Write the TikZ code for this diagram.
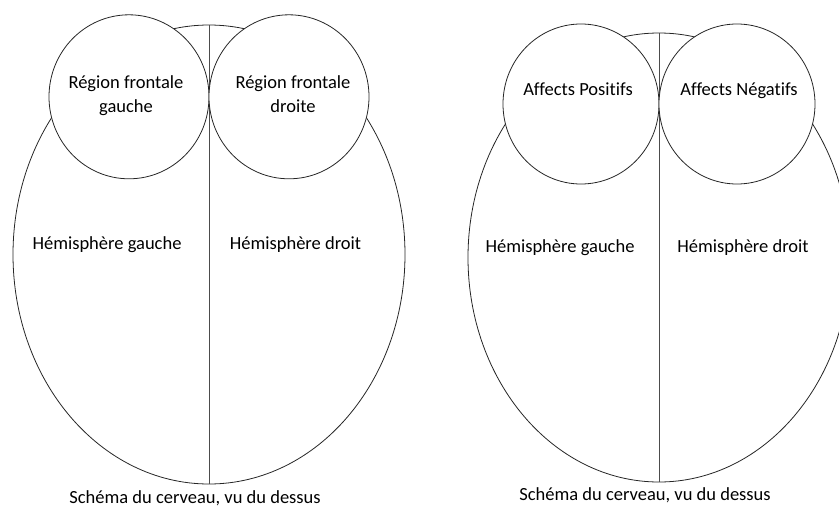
\documentclass[tikz,border=0pt]{standalone}
\usepackage{fontspec}
\setmainfont{Carlito}[Ligatures={NoCommon}]
\usetikzlibrary{shapes.geometric}

\begin{document}
\begin{tikzpicture}[x=1pt,y=-1pt,text depth=1pt]
\tikzstyle{lobe}=[ellipse,draw=black!85,line width=0.8pt,inner sep=0pt,outer sep=0pt]
\tikzstyle{front}=[lobe,fill=white]
\tikzstyle{caption}=[font=\fontsize{18.5}{24}\selectfont,align=center,inner sep=0pt]
\useasboundingbox (0,0) rectangle (839,509);
\clip (0,0) rectangle (839,509);
% left brain
\node[lobe,minimum width=392pt,minimum height=459pt] (brainA) at (209,254.5) {};
\draw[black!70,line width=0.8pt] (brainA.north) -- (brainA.south);
\node[front,minimum width=160pt,minimum height=164pt] (frontG) at (129,96.8) {};
\node[front,minimum width=160pt,minimum height=164pt] (frontD) at (289,96.8) {};
\node[caption] (txtFG) at (126,95) {Région frontale\\gauche};
\node[caption] (txtFD) at (293,95) {Région frontale\\droite};
\node[caption] (hemAG) at (107,244) {Hémisphère gauche};
\node[caption] (hemAD) at (295.5,244) {Hémisphère droit};
\node[caption] (capA) at (195,498) {Schéma du cerveau, vu du dessus};
% right brain
\node[lobe,minimum width=382pt,minimum height=449pt] (brainB) at (659,257.5) {};
\draw[black!70,line width=0.8pt] (brainB.north) -- (brainB.south);
\node[front,minimum width=156pt,minimum height=160pt] (posA) at (581,104) {};
\node[front,minimum width=156pt,minimum height=160pt] (negA) at (737,104) {};
\node[caption] (txtPos) at (578,90) {Affects Positifs};
\node[caption] (txtNeg) at (739,90) {Affects Négatifs};
\node[caption] (hemBG) at (560,247) {Hémisphère gauche};
\node[caption] (hemBD) at (743,247) {Hémisphère droit};
\node[caption] (capB) at (645,495) {Schéma du cerveau, vu du dessus};
\end{tikzpicture}
\end{document}
